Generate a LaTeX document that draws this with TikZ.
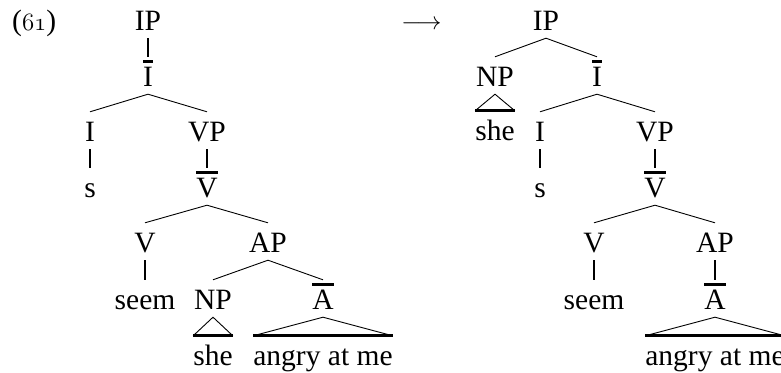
\documentclass[tikz,border=0pt]{standalone}
\usepackage{fontspec}
\setmainfont{Liberation Serif}
\usetikzlibrary{positioning}
\newlength\barwd
\newcommand{\xbar}[1]{\settowidth\barwd{#1}\ooalign{\hfil#1\hfil\cr\hfil\rule[23.5pt]{\barwd}{3pt}\hfil\cr}}
\newcommand{\exnum}[1]{{\usefont{OML}{cmm}{m}{it}#1}}

\begin{document}
\begin{tikzpicture}[x=1pt,y=-1pt,
	every node/.style={font=\fontsize{29.5}{34}\selectfont,inner sep=0pt,text height=29pt,text depth=8pt,anchor=base},
	branch/.style={line width=0.9pt},
	unary/.style={line width=2.2pt},
	roofbase/.style={line width=3pt}]
\useasboundingbox (0,0) rectangle (781,372);

\node[anchor=base west](exno) at (12,30) {(\exnum{61})};
\node[font=\fontsize{23}{27}\selectfont](arr) at (421.5,29) {$\longrightarrow$};

% before
\node(ip) at (148,30) {IP};
\node(ibar) at (148,86) {\xbar{I}};
\node(i) at (90,141) {I};
\node(vp) at (207,141) {VP};
\node(s) at (90,197) {s};
\node(vbar) at (207,197) {\xbar{V}};
\node(v) at (145,252) {V};
\node(ap) at (268,252) {AP};
\node(seem) at (145,309) {seem};
\node(np) at (213,309) {NP};
\node(abar) at (323,309) {\xbar{A}};
\node(she) at (213,365) {she};
\node(angry) at (323,365) {angry at me};

% after
\node(ip2) at (546,30) {IP};
\node(np2) at (495,86) {NP};
\node(ibar2) at (597,86) {\xbar{I}};
\node(she2) at (495,140) {she};
\node(i2) at (540,141) {I};
\node(vp2) at (655,141) {VP};
\node(s2) at (540,197) {s};
\node(vbar2) at (655,197) {\xbar{V}};
\node(v2) at (594,252) {V};
\node(ap2) at (715,252) {AP};
\node(seem2) at (594,309) {seem};
\node(abar2) at (715,309) {\xbar{A}};
\node(angry2) at (715,365) {angry at me};

\draw	(ip.south) edge[unary] (ibar.north)
		(ibar.south) edge[branch] (i.north)
		(ibar.south) edge[branch] (vp.north)
		(i.south) edge[unary] (s.north)
		(vp.south) edge[unary] (vbar.north)
		(vbar.south) edge[branch] (v.north)
		(vbar.south) edge[branch] (ap.north)
		(v.south) edge[unary] (seem.north)
		(ap.south) edge[branch] (np.north)
		(ap.south) edge[branch] (abar.north)
		;
\draw	(ip2.south) edge[branch] (np2.north)
		(ip2.south) edge[branch] (ibar2.north)
		(ibar2.south) edge[branch] (i2.north)
		(ibar2.south) edge[branch] (vp2.north)
		(i2.south) edge[unary] (s2.north)
		(vp2.south) edge[unary] (vbar2.north)
		(vbar2.south) edge[branch] (v2.north)
		(vbar2.south) edge[branch] (ap2.north)
		(v2.south) edge[unary] (seem2.north)
		(ap2.south) edge[unary] (abar2.north)
		;

\draw[branch] (she.north west) -- (np.south) -- (she.north east);
\draw[roofbase] (she.north west) -- (she.north east);
\draw[branch] (angry.north west) -- (abar.south) -- (angry.north east);
\draw[roofbase] (angry.north west) -- (angry.north east);
\draw[branch] (she2.north west) -- (np2.south) -- (she2.north east);
\draw[roofbase] (she2.north west) -- (she2.north east);
\draw[branch] (angry2.north west) -- (abar2.south) -- (angry2.north east);
\draw[roofbase] (angry2.north west) -- (angry2.north east);

\end{tikzpicture}
\end{document}
